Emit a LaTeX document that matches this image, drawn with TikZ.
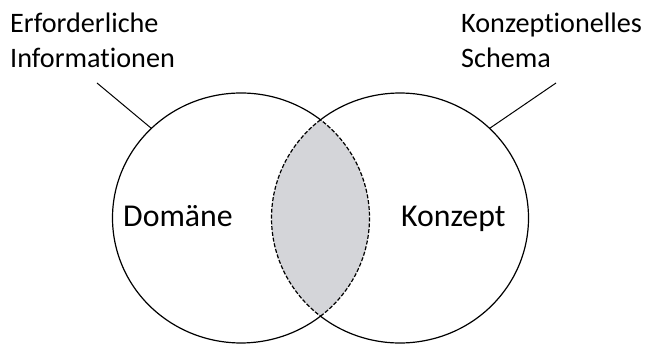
\documentclass[tikz,border=0pt]{standalone}
\usepackage{fontspec}
\setmainfont[Ligatures=NoCommon]{Carlito}
\usetikzlibrary{shapes.geometric}
\definecolor{lensgray}{RGB}{212,213,217}
\tikzset{
  set/.style={ellipse, inner sep=0pt, minimum width=257pt, minimum height=250pt},
  outline/.style={line width=1.2pt, black},
  lensline/.style={line width=1.2pt, black, dash pattern=on 4pt off 1.8pt},
  leader/.style={line width=1pt, black},
  setlbl/.style={inner sep=0pt, font=\fontsize{31.8}{38}\selectfont},
  notelbl/.style={inner sep=0pt, font=\fontsize{28.2}{35}\selectfont},
}
\begin{document}
\begin{tikzpicture}[x=1pt, y=1pt]
  \useasboundingbox (0,0) rectangle (647,345);
  % the two sets (shape only, outlines drawn as arcs below)
  \node[set] (dom) at (241,127) {};
  \node[set] (kon) at (400,127) {};
  % shaded intersection
  \begin{scope}
    \clip (241,127) ellipse [x radius=128.5, y radius=125];
    \fill[lensgray] (400,127) ellipse [x radius=128.5, y radius=125];
  \end{scope}
  % solid outer arcs
  \draw[outline] (241,127) ++(51.78:128.5 and 125)
    arc[start angle=51.78, end angle=308.22, x radius=128.5, y radius=125];
  \draw[outline] (400,127) ++(-128.22:128.5 and 125)
    arc[start angle=-128.22, end angle=128.22, x radius=128.5, y radius=125];
  % dashed lens border
  \draw[lensline] (241,127) ++(-51.78:128.5 and 125)
    arc[start angle=-51.78, end angle=51.78, x radius=128.5, y radius=125];
  \draw[lensline] (400,127) ++(128.22:128.5 and 125)
    arc[start angle=128.22, end angle=231.78, x radius=128.5, y radius=125];
  % labels inside the sets
  \node[setlbl, anchor=base west] (tdom) at (123,118.5) {Domäne};
  \node[setlbl, anchor=base west] (tkon) at (401,118.5) {Konzept};
  % outside labels (base anchor sits on the last line)
  \node[notelbl, anchor=base west, align=left] (info) at (10,277) {Erforderliche\\Informationen};
  \node[notelbl, anchor=base west, align=left] (schema) at (461,277) {Konzeptionelles\\Schema};
  % leader lines
  \coordinate (infoend) at (97,262);
  \coordinate (schemaend) at (556,262);
  \draw[leader] (infoend) -- (dom.135);
  \draw[leader] (schemaend) -- (kon.45);
\end{tikzpicture}
\end{document}
